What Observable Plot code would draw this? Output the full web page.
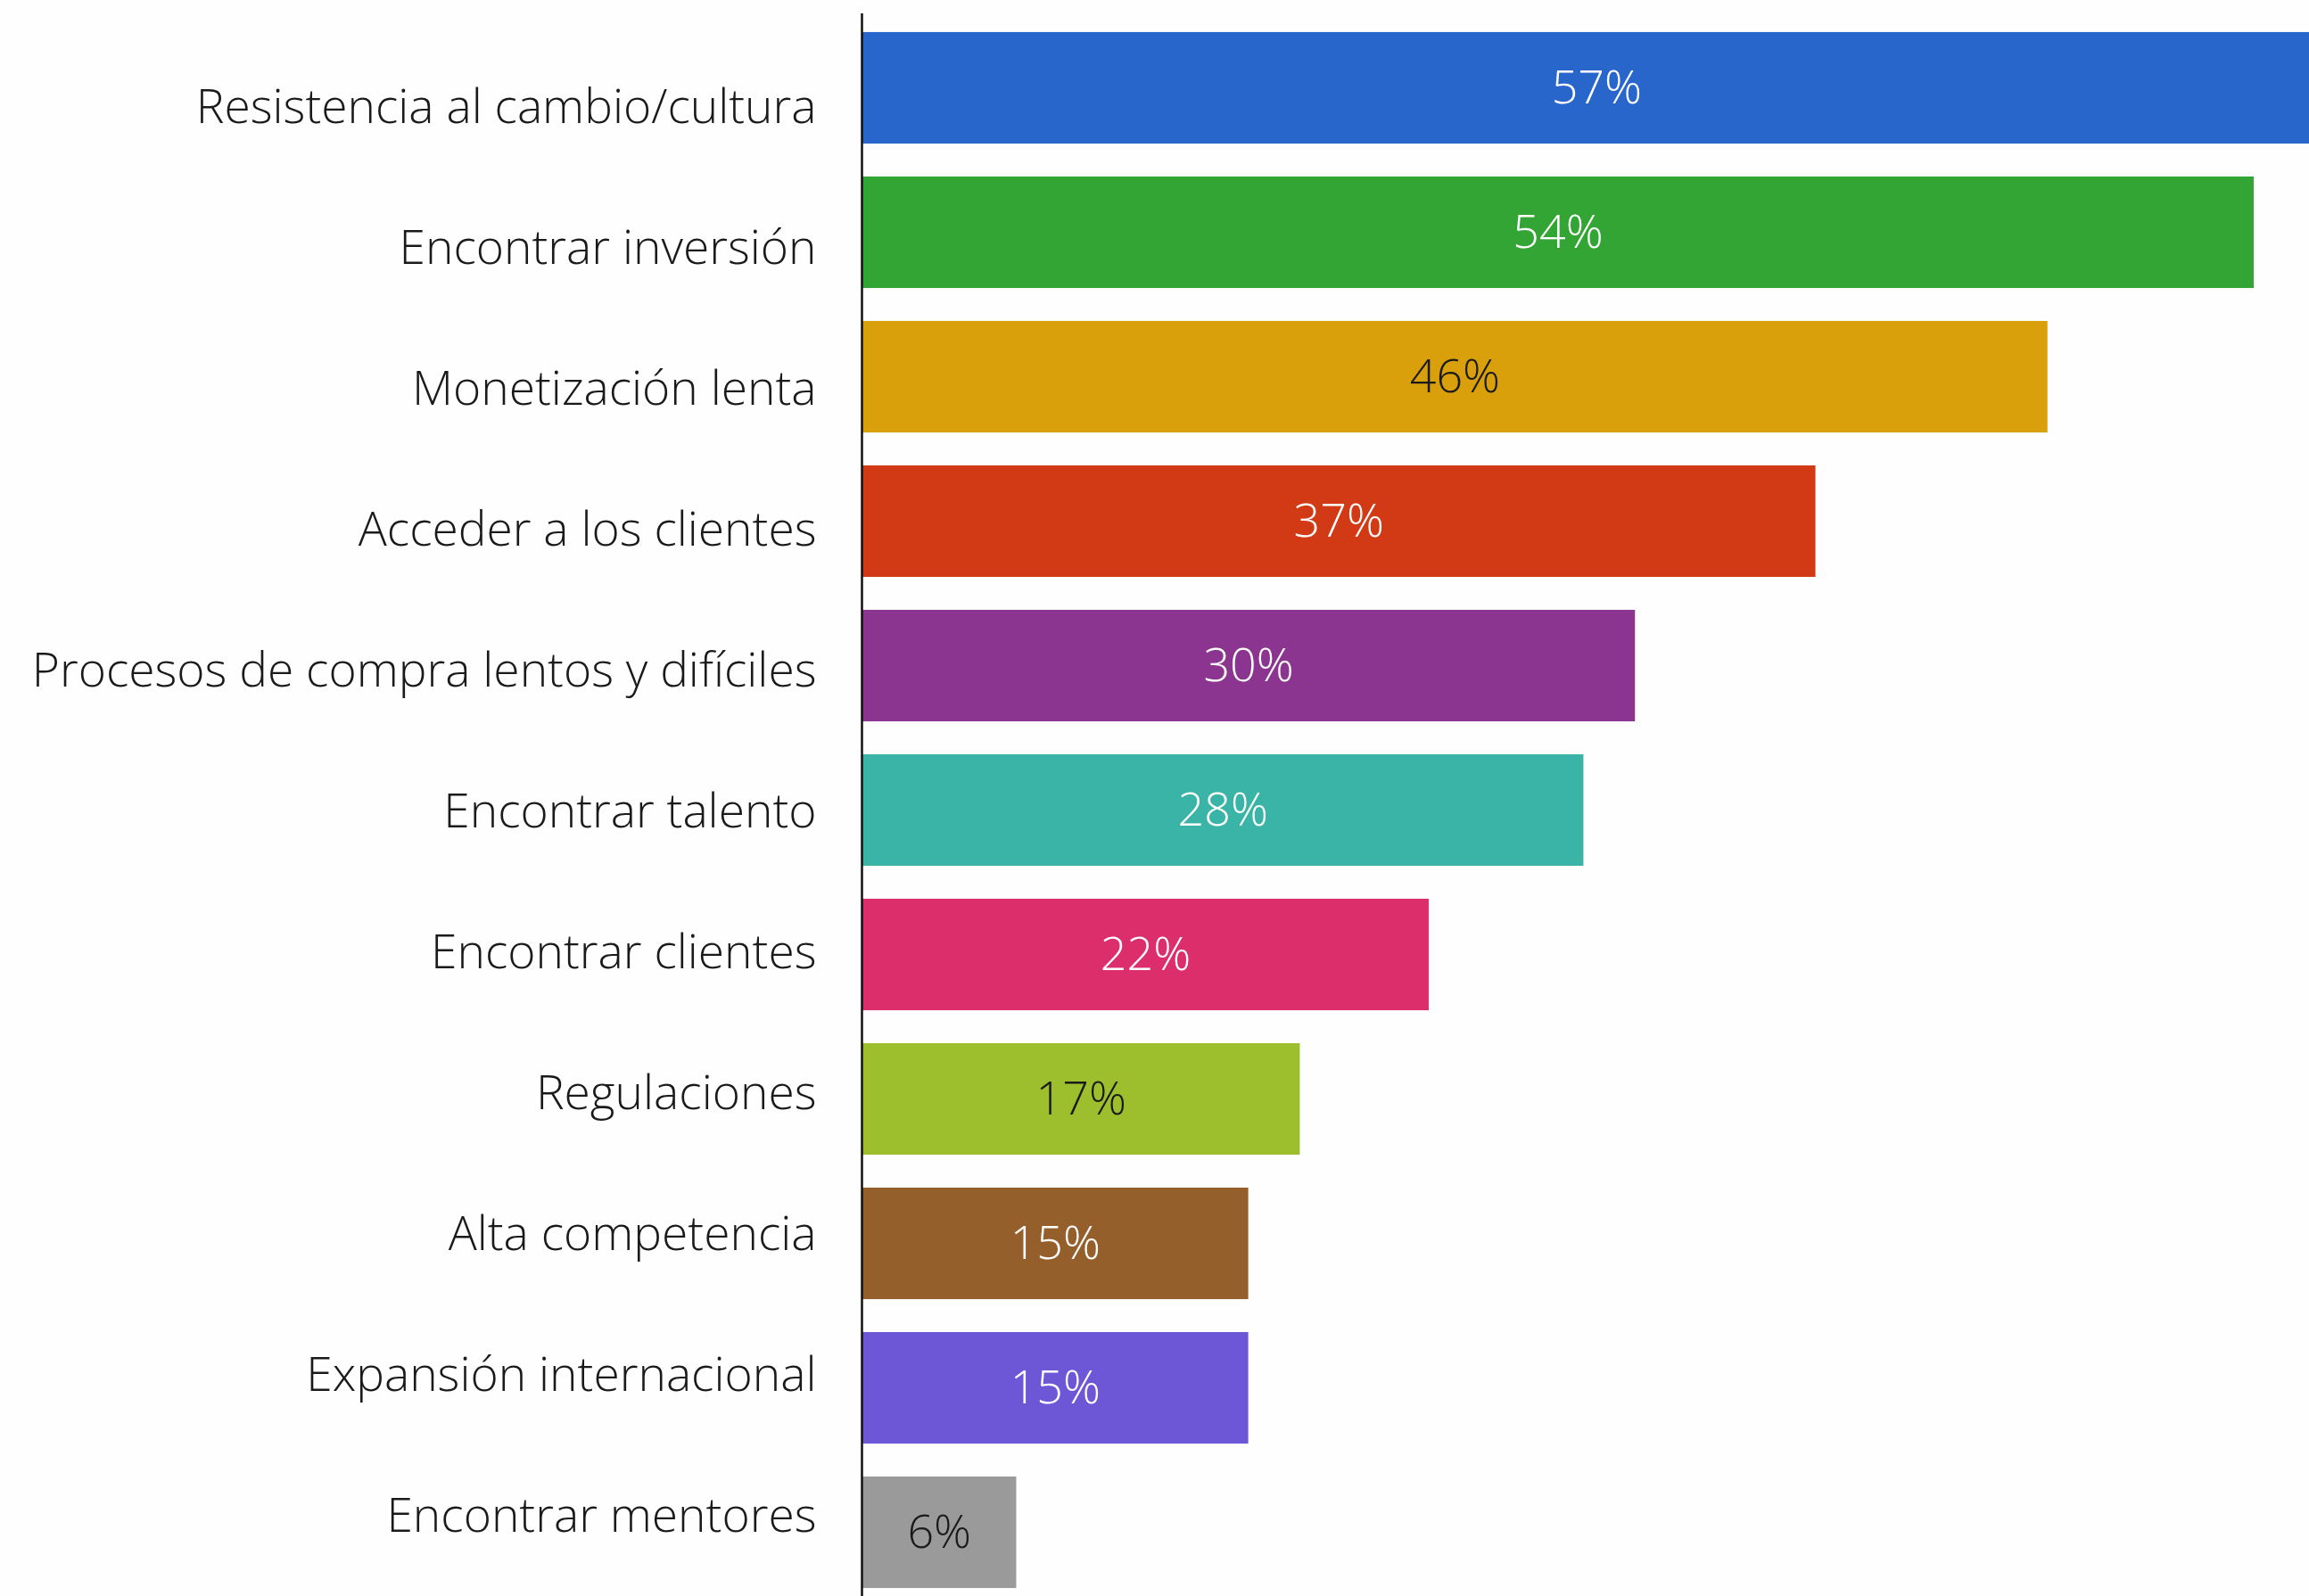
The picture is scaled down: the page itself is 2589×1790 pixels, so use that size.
<!DOCTYPE html>
<html>
<head>
<meta charset="utf-8">
<script src="https://cdn.jsdelivr.net/npm/d3@7"></script>
<script src="https://cdn.jsdelivr.net/npm/@observablehq/plot@0.6"></script>
<style>
  html, body { margin: 0; padding: 0; background: #fefefe; overflow: hidden; }
  #wrap { position: relative; width: 2589px; height: 1790px; }
  #wrap > svg, #wrap > figure { position: absolute; left: 0; top: 0; margin: 0; }
</style>
</head>
<body>
<div id="wrap"></div>
<script>
const categories = [
  "Resistencia al cambio/cultura",
  "Encontrar inversión",
  "Monetización lenta",
  "Acceder a los clientes",
  "Procesos de compra lentos y difíciles",
  "Encontrar talento",
  "Encontrar clientes",
  "Regulaciones",
  "Alta competencia",
  "Expansión internacional",
  "Encontrar mentores"
];
const values = [57, 54, 46, 37, 30, 28, 22, 17, 15, 15, 6];
const barColors = ["#2966cc", "#33a535", "#d9a00b", "#d13a15", "#8b3590", "#3ab4a6", "#dc2e6b", "#9dbf2e", "#955f2b", "#6e57d6", "#9a9a9a"];
const valueTextColors = ["#ffffff", "#ffffff", "#1a1a1a", "#ffffff", "#ffffff", "#ffffff", "#ffffff", "#1a1a1a", "#ffffff", "#ffffff", "#1a1a1a"];

const data = categories.map((c, i) => ({
  category: c, value: values[i], color: barColors[i], textColor: valueTextColors[i]
}));

const font = "'Open Sans', Lato, sans-serif";

const bars = Plot.plot({
  width: 2589,
  height: 1790,
  marginTop: 15, marginBottom: 0, marginLeft: 0, marginRight: 0,
  style: { fontFamily: font, background: "transparent" },
  x: { domain: [0, 54], range: [966, 2527], axis: null },
  y: { domain: categories, range: [-1, 1818], padding: 0.228, round: false, axis: null },
  color: { type: "identity" },
  marks: [
    Plot.barX(data, { x: "value", y: "category", fill: "color", clip: true }),
    Plot.text(data, {
      x: d => d.value / 2, y: "category", text: d => d.value + "%",
      fill: "textColor", fontSize: 52, fontWeight: 300
    }),
    Plot.ruleX([0], { stroke: "#111", strokeWidth: 2.5 })
  ]
});

const labels = Plot.plot({
  width: 915,
  height: 1790,
  marginTop: 117, marginBottom: 88, marginLeft: 0, marginRight: 0,
  style: { fontFamily: font, background: "transparent" },
  x: { axis: null },
  y: { type: "point", domain: categories, padding: 0, axis: null },
  marks: [
    Plot.text(data, {
      y: "category", text: "category", frameAnchor: "right", textAnchor: "end",
      fill: "#1a1a1a", fontSize: 53.3, fontWeight: 300
    })
  ]
});

const wrap = document.getElementById("wrap");
wrap.appendChild(labels);
wrap.appendChild(bars);
</script>
</body>
</html>
